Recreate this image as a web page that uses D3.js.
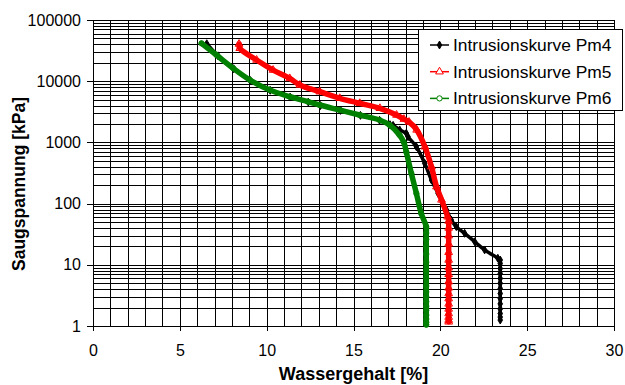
<!DOCTYPE html>
<html>
<head>
<meta charset="utf-8">
<script src="https://cdn.jsdelivr.net/npm/d3@7"></script>
<style>
  html, body { margin: 0; padding: 0; background: #fff; }
  svg { display: block; font-family: "Liberation Sans", Arial, sans-serif; }
</style>
</head>
<body>
<svg id="chart" width="625" height="385"></svg>
<script>
// Intrusion curves: water content [%] vs. suction [kPa]
const seriesNames = ["Intrusionskurve Pm4", "Intrusionskurve Pm5", "Intrusionskurve Pm6"];

const waterPm4 = [6.55, 7.2, 8.1, 9.05, 10.2, 11.35, 12.4, 13.1, 14.25, 15.4, 16.5, 17.1, 17.28, 17.66, 18.04, 18.14, 18.62, 19.1, 19.49, 19.87, 20.35, 20.63, 20.92, 21.4, 21.98, 22.55, 23.31, 23.45,
  23.45, 23.45, 23.45, 23.45, 23.45, 23.45, 23.45, 23.45, 23.45, 23.45, 23.45, 23.45, 23.45];
const suctionPm4 = [41000, 26000, 16000, 10300, 7100, 5500, 4550, 4000, 3330, 2760, 2300, 1950, 1900, 1600, 1410, 1240, 850, 455, 243, 147, 79, 54, 42, 32.7, 23.8, 17.5, 12.8, 12,
  10.5, 8.7, 7.2, 6, 5, 4.1, 3.4, 2.8, 2.3, 1.9, 1.6, 1.4, 1.25];

const waterPm5 = [8.41, 8.45, 9.42, 10.37, 11.33, 11.91, 13.06, 14.21, 15.36, 16.52, 17.48, 17.9, 18.2, 18.64, 19.11, 19.49, 19.78, 20.07, 20.42, 20.48,
  20.48, 20.48, 20.48, 20.48, 20.48, 20.48, 20.48, 20.48, 20.48, 20.48, 20.48, 20.48, 20.48, 20.48, 20.48, 20.48, 20.48];
const suctionPm5 = [40500, 34500, 22200, 15200, 11100, 8670, 6730, 5260, 4360, 3610, 2800, 2400, 2150, 1600, 850, 401, 189, 115, 61, 52,
  40, 30, 22, 16, 12, 9, 7, 5.3, 4.2, 3.4, 2.8, 2.3, 1.9, 1.6, 1.4, 1.25, 1.17];

const waterPm6 = [6.25, 7.11, 8.07, 9.03, 10.18, 11.33, 12.38, 13.05, 14.2, 15.35, 16.5, 17.08, 17.65, 17.9, 18.04, 18.33, 18.62, 18.9, 19.19,
  19.19, 19.19, 19.19, 19.19, 19.19, 19.19, 19.19, 19.19, 19.19, 19.19, 19.19, 19.19, 19.19, 19.19, 19.19, 19.19, 19.19];
const suctionPm6 = [41600, 26800, 16300, 10500, 7180, 5580, 4630, 4080, 3380, 2800, 2320, 1920, 1320, 1000, 700, 313, 147, 69, 42,
  33, 26, 20, 15, 11, 8, 6, 4.5, 3.6, 3, 2.5, 2.1, 1.8, 1.5, 1.3, 1.15, 1.05];

const xTicks = [0, 5, 10, 15, 20, 25, 30];
const yTicks = [1, 10, 100, 1000, 10000, 100000];
const xTitle = "Wassergehalt [%]";
const yTitle = "Saugspannung [kPa]";

const svg = d3.select("#chart");
const plotLeft = 93, plotRight = 614, plotTop = 20, plotBottom = 326;

const x = d3.scaleLinear().domain([0, 30]).range([plotLeft, plotRight]);
const y = d3.scaleLog().domain([1, 100000]).range([plotBottom, plotTop]);

const px = v => Math.round(v) + 0.5;

// grid: every 1 % vertically, log minor lines horizontally
const grid = svg.append("g").attr("shape-rendering", "crispEdges").attr("stroke", "#000").attr("stroke-width", 1);
grid.selectAll("line.v").data(d3.range(0, 31)).join("line")
  .attr("x1", d => px(x(d))).attr("x2", d => px(x(d)))
  .attr("y1", plotTop).attr("y2", plotBottom);
grid.selectAll("line.h").data(y.ticks()).join("line")
  .attr("x1", plotLeft).attr("x2", plotRight)
  .attr("y1", d => px(y(d))).attr("y2", d => px(y(d)));

// axes
const xAxis = svg.append("g")
  .attr("transform", `translate(0,${px(plotBottom) - 0.5})`)
  .call(d3.axisBottom(x).tickValues(xTicks).tickSize(5).tickPadding(14).tickFormat(d3.format("d")));
const yAxis = svg.append("g")
  .attr("transform", `translate(${px(plotLeft) - 0.5},0)`)
  .call(d3.axisLeft(y).tickValues(yTicks).tickSize(6).tickPadding(6).tickFormat(d3.format("d")));
[xAxis, yAxis].forEach(a => {
  a.select(".domain").attr("stroke", "#000").attr("shape-rendering", "crispEdges");
  a.selectAll(".tick line").attr("stroke", "#000").attr("shape-rendering", "crispEdges");
  a.selectAll(".tick text").attr("fill", "#000").style("font-size", "16px")
    .style("font-family", "'Liberation Sans', Arial, sans-serif");
});

// series
const series = [
  { name: seriesNames[0], xs: waterPm4, ys: suctionPm4, color: "#000000", width: 3.5, symbol: d3.symbolDiamond, size: 18, fill: "#000000" },
  { name: seriesNames[1], xs: waterPm5, ys: suctionPm5, color: "#ff0000", width: 5.5, symbol: d3.symbolTriangle, size: 26, fill: "none" },
  { name: seriesNames[2], xs: waterPm6, ys: suctionPm6, color: "#008000", width: 5.5, symbol: d3.symbolCircle, size: 22, fill: "none" }
];

const line = d3.line().x(d => x(d[0])).y(d => y(d[1])).curve(d3.curveCatmullRom.alpha(0.5));
const plot = svg.append("g");
series.forEach(s => {
  const pts = s.xs.map((v, i) => [v, s.ys[i]]);
  plot.append("path").datum(pts)
    .attr("fill", "none").attr("stroke", s.color).attr("stroke-width", s.width)
    .attr("stroke-linejoin", "round").attr("stroke-linecap", "round")
    .attr("d", line);
  plot.append("g").selectAll("path").data(pts).join("path")
    .attr("transform", d => `translate(${x(d[0])},${y(d[1])})`)
    .attr("d", d3.symbol(s.symbol, s.size))
    .attr("fill", s.fill).attr("stroke", s.color).attr("stroke-width", 1);
});

// axis titles
svg.append("text").attr("x", (plotLeft + plotRight) / 2).attr("y", 380)
  .attr("text-anchor", "middle").style("font-size", "18px").style("font-weight", "bold")
  .text(xTitle);
svg.append("text").attr("transform", "translate(25,184) rotate(-90)")
  .attr("text-anchor", "middle").style("font-size", "17.5px").style("font-weight", "bold")
  .text(yTitle);

// legend
const lg = svg.append("g").attr("transform", "translate(418,29)");
lg.append("rect").attr("x", 0.5).attr("y", 0.5).attr("width", 204).attr("height", 81)
  .attr("fill", "#fff").attr("stroke", "#000").attr("stroke-width", 1).attr("shape-rendering", "crispEdges");
series.forEach((s, i) => {
  const cy = 16 + i * 26.7;
  lg.append("line").attr("x1", 12).attr("x2", 31).attr("y1", cy).attr("y2", cy)
    .attr("stroke", s.color).attr("stroke-width", 1.5);
  lg.append("path").attr("transform", `translate(21.5,${cy})`)
    .attr("d", d3.symbol(s.symbol, s.size))
    .attr("fill", s.fill === "none" ? "#fff" : s.fill).attr("stroke", s.color).attr("stroke-width", 1);
  lg.append("text").attr("x", 35).attr("y", cy).attr("dy", "0.35em")
    .style("font-size", "17.4px").text(s.name);
});
</script>
</body>
</html>
